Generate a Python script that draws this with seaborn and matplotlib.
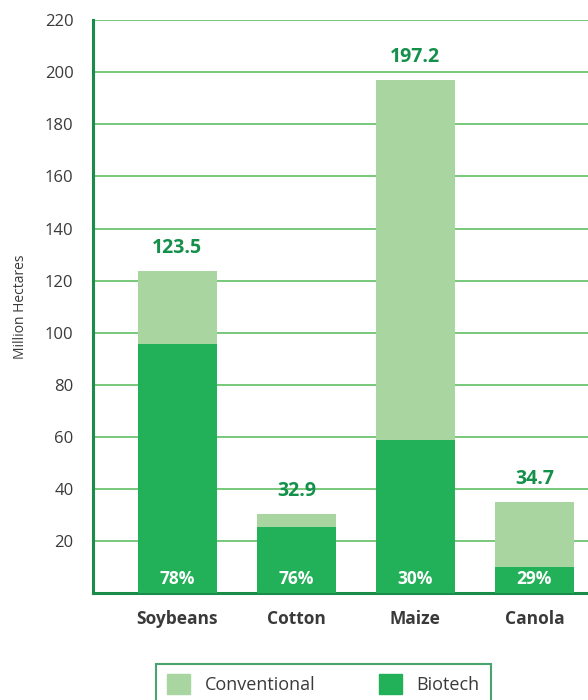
import matplotlib
matplotlib.use("Agg")
import matplotlib.pyplot as plt
import matplotlib.patches as mpatches
import seaborn as sns

crops = ["Soybeans", "Cotton", "Maize", "Canola"]
total_ha = [123.5, 30.3, 197.2, 34.9]
biotech_ha = [95.5, 25.3, 58.8, 10.0]
total_labels = ["123.5", "32.9", "197.2", "34.7"]
biotech_pct = ["78%", "76%", "30%", "29%"]

light_green = "#a8d5a0"
dark_green = "#22b058"
axis_green = "#1a8c4a"
grid_green = "#6cc470"
text_grey = "#3a3a3a"

sns.set_style("white")
plt.rcParams["font.family"] = ["Open Sans", "DejaVu Sans"]

fig = plt.figure(figsize=(5.88, 7), dpi=100)
ax = fig.add_axes([0.158, 0.153, 0.842, 0.818])

sns.barplot(x=crops, y=total_ha, color=light_green, width=0.67, saturation=1,
            linewidth=0, ax=ax, zorder=3)
sns.barplot(x=crops, y=biotech_ha, color=dark_green, width=0.67, saturation=1,
            linewidth=0, ax=ax, zorder=3)

for i in range(len(crops)):
    ax.text(i, total_ha[i] + 5, total_labels[i], ha="center", va="bottom",
            fontsize=14, fontweight="bold", color="#14904a", zorder=4)
    ax.text(i, 2.0, biotech_pct[i], ha="center", va="bottom",
            fontsize=12.5, fontweight="bold", color="white", zorder=4)

ax.set_ylim(0, 220)
ax.set_xlim(-0.71, 3.45)
ax.set_yticks(range(20, 221, 20))
ax.yaxis.grid(True, color=grid_green, linewidth=1.3, zorder=0)
ax.set_axisbelow(True)

for s in ["top", "right"]:
    ax.spines[s].set_visible(False)
ax.spines["left"].set_color(axis_green)
ax.spines["left"].set_linewidth(2.2)
ax.spines["bottom"].set_color(axis_green)
ax.spines["bottom"].set_linewidth(2.2)

ax.tick_params(axis="y", direction="in", length=7, width=2, color=axis_green,
               labelsize=12, labelcolor=text_grey, pad=14)
ax.set_xticks([0.5, 1.5, 2.5], minor=True)
ax.tick_params(axis="x", which="major", length=0, labelsize=12.5, labelcolor=text_grey, pad=12)
ax.tick_params(axis="x", which="minor", direction="in", length=8, width=1.2, color=axis_green)
for lab in ax.get_xticklabels():
    lab.set_fontweight("bold")

ax.set_xlabel("")
ax.set_ylabel("Million Hectares", fontsize=10, color=text_grey, labelpad=12)

handles = [mpatches.Patch(color=light_green, label="Conventional"),
           mpatches.Patch(color=dark_green, label="Biotech")]
leg = fig.legend(handles=handles, loc="upper center", bbox_to_anchor=(0.55, 0.065),
                 ncol=2, frameon=True, fancybox=False, fontsize=13,
                 handlelength=1.3, handleheight=1.3, columnspacing=3.5,
                 borderpad=0.6, labelcolor=text_grey)
leg.get_frame().set_edgecolor(axis_green)
leg.get_frame().set_linewidth(1.5)

fig.savefig("out.png", dpi=100)
